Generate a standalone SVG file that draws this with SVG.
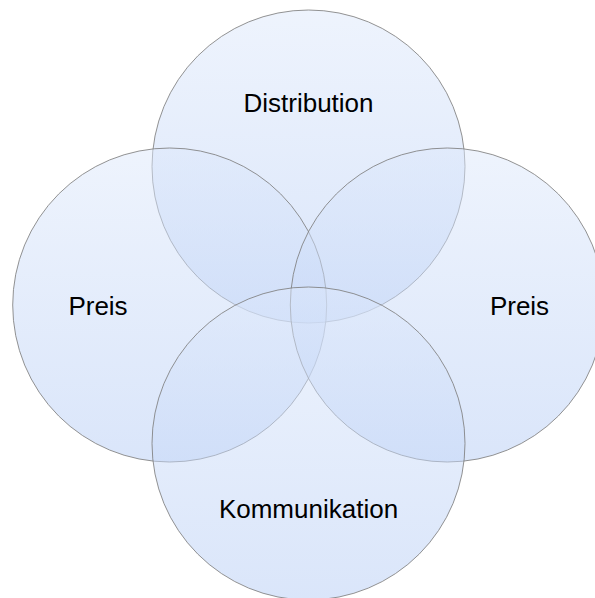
<svg xmlns="http://www.w3.org/2000/svg" width="595" height="598" viewBox="0 0 595 598">
<defs>
<linearGradient id="g" x1="0" y1="0" x2="0" y2="1">
<stop offset="0" stop-color="#dde8fb"/>
<stop offset="1" stop-color="#b5ccf5"/>
</linearGradient>
<style>
.c{fill:url(#g);fill-opacity:0.5;stroke:#7f7f7f;stroke-opacity:0.85;stroke-width:1}
.t{font-family:"Liberation Sans",Arial,sans-serif;font-size:26px;fill:#000;text-anchor:middle}
</style>
</defs>
<rect width="595" height="598" fill="#fff"/>
<g id="distribution"><circle class="c" cx="308.5" cy="166.5" r="156.5"/><text class="t" x="308.5" y="112">Distribution</text></g>
<g id="preis-links"><circle class="c" cx="169.7" cy="305" r="157"/><text class="t" x="98" y="315">Preis</text></g>
<g id="preis-rechts"><circle class="c" cx="447.3" cy="305" r="157"/><text class="t" x="519.5" y="315">Preis</text></g>
<g id="kommunikation"><circle class="c" cx="308.5" cy="443.5" r="156.5"/><text class="t" x="308.5" y="518">Kommunikation</text></g>
<g id="connectors"/>
</svg>
